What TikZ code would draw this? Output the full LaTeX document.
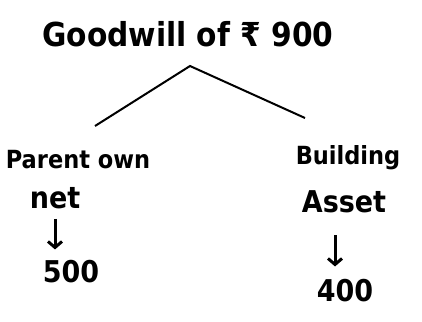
\documentclass[tikz,border=0pt]{standalone}
\usepackage{fontspec}
\setmainfont{DejaVu Sans Condensed}
\usetikzlibrary{arrows.meta}
\tikzset{
  hand/.style={inner sep=0pt, font=\bfseries\fontsize{25}{27}\selectfont, text=black},
  big/.style={hand, font=\bfseries\fontsize{30}{32}\selectfont},
  branch/.style={line width=2pt, black},
  down/.style={line width=3pt, -{Straight Barb[length=6pt,width=14pt]}, black}
}
\begin{document}
\begin{tikzpicture}[x=1pt,y=-1pt]
\useasboundingbox (0,0) rectangle (422,321);
\node[hand, font=\bfseries\fontsize{33}{35}\selectfont] (title) at (188,34) {Goodwill of ₹ 900};
\coordinate (apex) at (190,66);
\coordinate (lend) at (95,126);
\coordinate (rend) at (305,118);
\draw[branch] (lend) -- (apex) -- (rend);
\node[hand] (pown) at (78,160) {Parent own};
\node[big] (net) at (55,198) {net};
\node[big] (v500) at (71,272) {500};
\draw[down, shorten <=10pt, shorten >=11pt] (net.south) -- (net.south |- v500.north);
\node[hand] (build) at (348,158) {Building};
\node[big] (asset) at (344,202) {Asset};
\node[big] (v400) at (345,291) {400};
\coordinate (rx) at (335,0);
\draw[down, shorten <=22pt, shorten >=13pt] (rx |- asset.south) -- (rx |- v400.north);
\end{tikzpicture}
\end{document}
